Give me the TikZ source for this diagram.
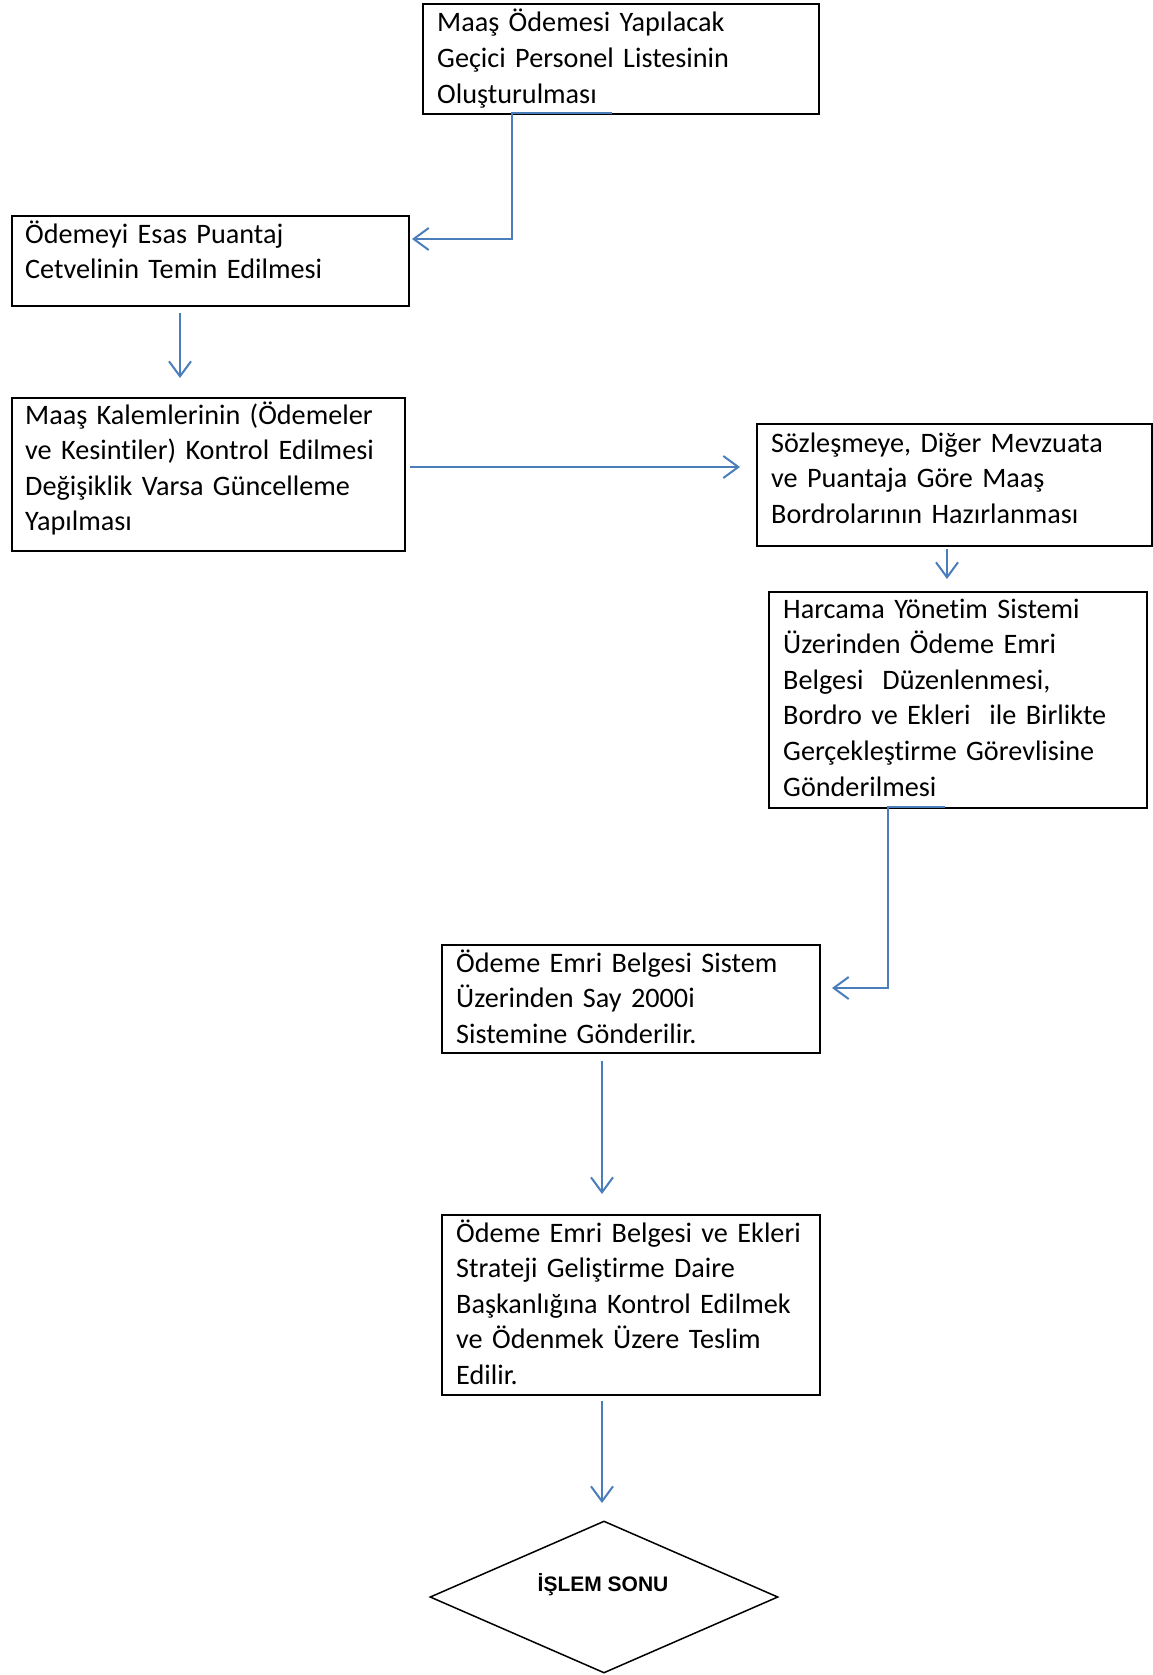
\documentclass[tikz,border=0pt]{standalone}
\usepackage{fontspec}
\setmainfont[Ligatures=NoCommon]{Carlito}
\newfontfamily\arialfont{Liberation Sans}
\usetikzlibrary{arrows.meta,shapes.geometric}
\definecolor{conncol}{RGB}{74,126,187}
\begin{document}
\begin{tikzpicture}[x=1pt,y=-1pt,
  box/.style={draw, line width=2pt, inner sep=0pt, anchor=north west},
  txt/.style={anchor=base west, inner sep=0pt, text width=#1, align=left,
    font=\fontsize{28.2}{35.6}\selectfont},
  conn/.style={draw=conncol, line width=2pt},
  arr/.style={conn, -{Straight Barb[length=15pt, width=22pt]}}]
\useasboundingbox (0,0) rectangle (1153,1675);
% boxes
\node[box, minimum width=396pt, minimum height=110pt] (b1) at (422,3) {};
\node[box, minimum width=397pt, minimum height=90pt] (b2) at (11,215) {};
\node[box, minimum width=393pt, minimum height=153pt] (b3) at (11,397) {};
\node[box, minimum width=395pt, minimum height=122pt] (b4) at (756,423) {};
\node[box, minimum width=378pt, minimum height=216pt] (b5) at (768,591) {};
\node[box, minimum width=378pt, minimum height=108pt] (b6) at (441,944) {};
\node[box, minimum width=378pt, minimum height=180pt] (b7) at (441,1214) {};
\node[diamond, draw, line width=1.5pt, inner sep=0pt, minimum width=348pt, minimum height=152pt] (d) at (604,1597) {};
% texts
\node[txt=370pt] (t1) at (437,32) {Maaş Ödemesi Yapılacak\\Geçici Personel Listesinin\\Oluşturulması};
\node[txt=370pt] (t2) at (25,243) {Ödemeyi Esas Puantaj\\Cetvelinin Temin Edilmesi};
\node[txt=370pt] (t3) at (25,424) {Maaş Kalemlerinin (Ödemeler\\ve Kesintiler) Kontrol Edilmesi\\Değişiklik Varsa Güncelleme\\Yapılması};
\node[txt=370pt] (t4) at (771,452) {Sözleşmeye, Diğer Mevzuata\\ve Puantaja Göre Maaş\\Bordrolarının Hazırlanması};
\node[txt=355pt] (t5) at (783,618) {Harcama Yönetim Sistemi\\Üzerinden Ödeme Emri\\Belgesi\ \ Düzenlenmesi,\\Bordro ve Ekleri\ \ ile Birlikte\\Gerçekleştirme Görevlisine\\Gönderilmesi};
\node[txt=355pt] (t6) at (456,972) {Ödeme Emri Belgesi Sistem\\Üzerinden Say 2000i\\Sistemine Gönderilir.};
\node[txt=355pt] (t7) at (456,1242) {Ödeme Emri Belgesi ve Ekleri\\Strateji Geliştirme Daire\\Başkanlığına Kontrol Edilmek\\ve Ödenmek Üzere Teslim\\Edilir.};
\node[anchor=base, inner sep=0pt, font=\arialfont\bfseries\fontsize{21}{25}\selectfont] (dt) at (603,1591) {İŞLEM SONU};
% connector points
\coordinate (c1a) at (612,113);
\coordinate (c1b) at (512,113);
\coordinate (c1c) at (512,239);
\coordinate (c1d) at (412,239);
\coordinate (a2s) at (180,313);
\coordinate (a2e) at (180,378);
\coordinate (a3s) at (410,467);
\coordinate (a3e) at (740,467);
\coordinate (a4s) at (947,549);
\coordinate (a4e) at (947,579);
\coordinate (c5a) at (945,807);
\coordinate (c5b) at (888,807);
\coordinate (c5c) at (888,988);
\coordinate (c5d) at (832,988);
\coordinate (a6s) at (602,1061);
\coordinate (a6e) at (602,1194);
\coordinate (a7s) at (602,1401);
\coordinate (a7e) at (602,1503);
% connectors
\draw[arr] (c1a) -- (c1b) -- (c1c) -- (c1d);
\draw[arr] (a2s) -- (a2e);
\draw[arr] (a3s) -- (a3e);
\draw[arr] (a4s) -- (a4e);
\draw[arr] (c5a) -- (c5b) -- (c5c) -- (c5d);
\draw[arr] (a6s) -- (a6e);
\draw[arr] (a7s) -- (a7e);
\end{tikzpicture}
\end{document}
